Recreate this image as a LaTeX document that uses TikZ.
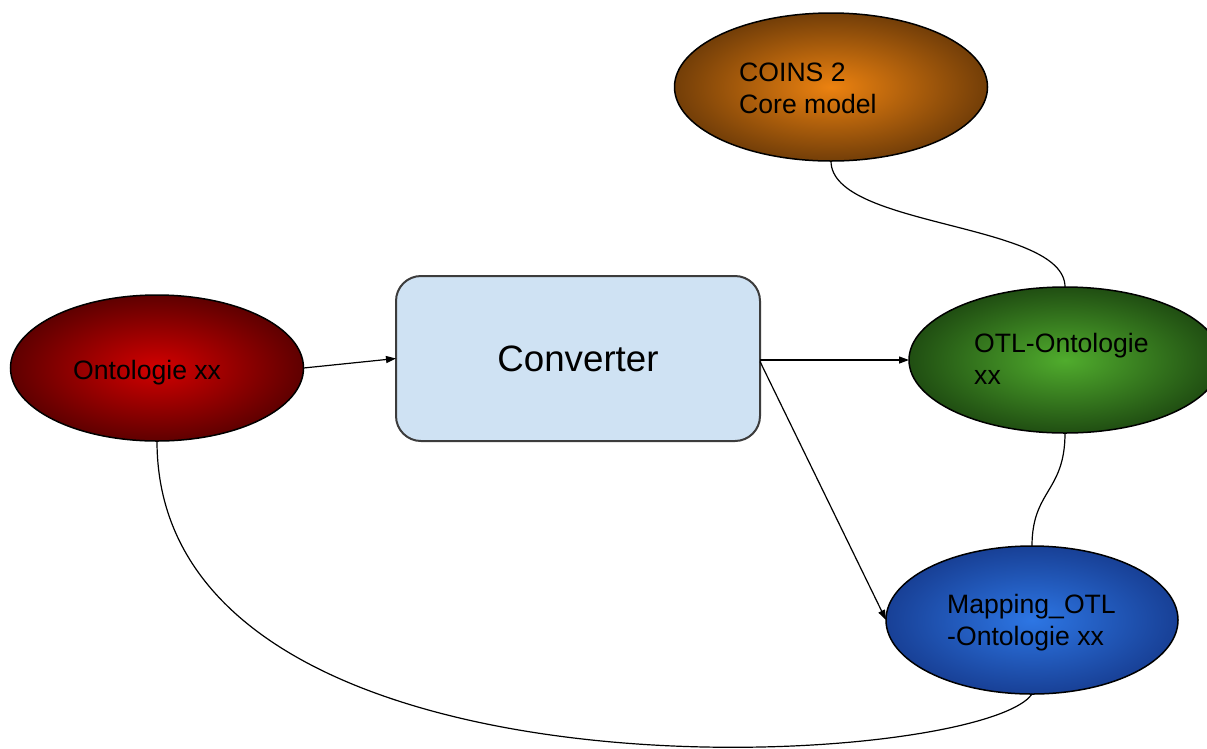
\documentclass[tikz,border=0pt]{standalone}
\usepackage{fontspec}
\setmainfont{Liberation Sans}
\usetikzlibrary{shapes.geometric,arrows.meta}
\definecolor{redIn}{RGB}{210,0,0}
\definecolor{redOut}{RGB}{95,0,0}
\definecolor{orIn}{RGB}{236,130,16}
\definecolor{orOut}{RGB}{115,62,8}
\definecolor{grIn}{RGB}{80,172,45}
\definecolor{grOut}{RGB}{32,78,18}
\definecolor{blIn}{RGB}{45,118,228}
\definecolor{blOut}{RGB}{24,64,150}
\definecolor{convFill}{RGB}{207,226,243}
\definecolor{convLine}{RGB}{60,60,60}
\begin{document}
\begin{tikzpicture}[x=1pt,y=-1pt,
  onto/.style={ellipse, draw=black, line width=1.5pt, inner sep=0pt, outer sep=0pt},
  conv/.style={rectangle, rounded corners=25pt, draw=convLine, line width=2pt, fill=convFill,
    minimum width=364pt, minimum height=165pt, inner sep=0pt, outer sep=0pt,
    font=\fontsize{36.7pt}{42pt}\selectfont},
  lbl/.style={anchor=base west, inner sep=0pt, font=\fontsize{26.6pt}{31.5pt}\selectfont},
  arr/.style={line width=1.2pt, -{Triangle[length=10pt,width=7pt]}},
  link/.style={line width=1.2pt}]
\useasboundingbox (0,0) rectangle (1207,748);
\fill[white] (0,0) rectangle (1207,748);
% shapes
\node[onto, minimum width=293pt, minimum height=146pt, inner color=redIn, outer color=redOut] (red) at (157,368) {};
\node[onto, minimum width=313pt, minimum height=148pt, inner color=orIn, outer color=orOut] (coins) at (831,87) {};
\node[onto, minimum width=312pt, minimum height=146pt, inner color=grIn, outer color=grOut] (otl) at (1065,360) {};
\node[onto, minimum width=292pt, minimum height=148pt, inner color=blIn, outer color=blOut] (map) at (1032,620) {};
\node[conv] (converter) at (578,358.5) {Converter};
% labels
\node[lbl] (tred) at (73,379) {Ontologie xx};
\node[lbl] (tcoins1) at (739,81) {COINS 2};
\node[lbl] (tcoins2) at (739,113) {Core model};
\node[lbl] (totl1) at (974,352) {OTL-Ontologie};
\node[lbl] (totl2) at (974,384) {xx};
\node[lbl] (tmap1) at (947,613) {Mapping\_OTL};
\node[lbl] (tmap2) at (947,645) {-Ontologie xx};
% connectors
\draw[arr] (red.east) -- (converter.west);
\draw[arr] (converter.east |- otl.west) -- (otl.west);
\draw[arr] ([yshift=-3pt]converter.east) -- (map.west);
\draw[link] (coins.south) .. controls (831,228) and (1065,222) .. (otl.north);
\draw[link] (otl.south) .. controls (1065,492) and (1032,490) .. (map.north);
\draw[link] (red.south) .. controls (157,820) and (980,770) .. (map.south);
\end{tikzpicture}
\end{document}
